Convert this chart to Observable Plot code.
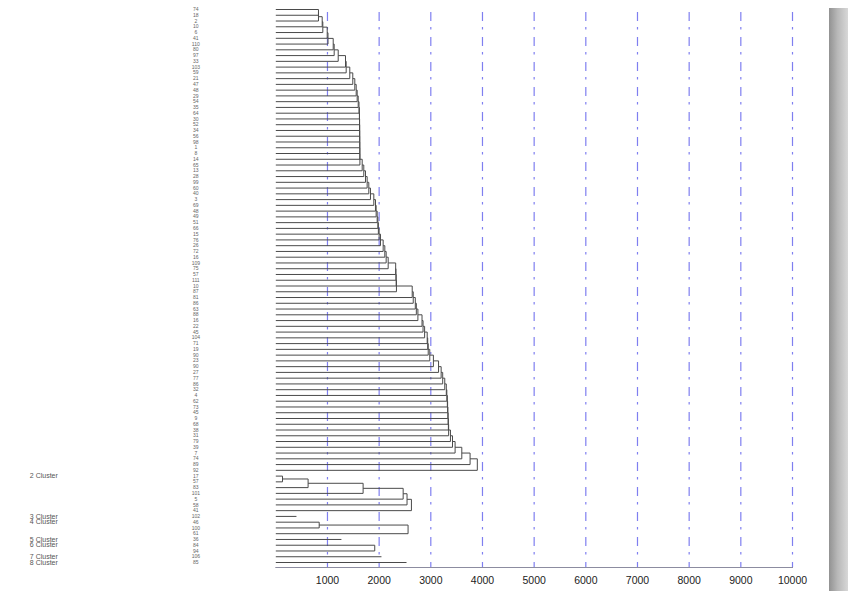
<!DOCTYPE html>
<html>
<head>
<meta charset="utf-8">
<script src="https://cdn.jsdelivr.net/npm/d3@7"></script>
<script src="https://cdn.jsdelivr.net/npm/@observablehq/plot@0.6"></script>
<style>
  html, body { margin: 0; padding: 0; background: #fff; }
  #wrap { position: relative; width: 848px; height: 591px; overflow: hidden; }
  #shade { position: absolute; left: 829px; top: 8px; width: 19px; height: 583px;
           background: linear-gradient(to right, #929292, #b8b8b8 45%, #d8d8d8); }
</style>
</head>
<body>
<div id="wrap"><div id="chart"></div><div id="shade"></div></div>
<script>
// ---- data ----
const clusterNames = ["1 Cluster", "2 Cluster", "3 Cluster", "4 Cluster", "5 Cluster", "6 Cluster", "7 Cluster", "8 Cluster"];
const showClusterName = [false, true, true, true, true, true, true, true];

const leaves1 = ["74","18","2","10","6","41","110","80","97","33","103","59","21","47","48","29","54","35","64","30",
  "52","34","56","98","1","8","14","65","13","28","99","60","40","3","69","48","49","51","66","15",
  "76","26","72","16","109","75","57","111","10","87","81","86","63","88","16","22","45","104","71","19",
  "90","23","90","27","77","86","32","4","62","73","45","9","68","38","31","79","39","7","74","89","92"];
const merges1 = [826, 826, 898, 910, 995, 1010, 1111, 1130, 1208, 1349, 1362, 1432, 1490, 1529, 1556, 1575, 1595, 1610, 1618, 1620,
  1622, 1623, 1624, 1625, 1626, 1627, 1628, 1672, 1703, 1736, 1768, 1800, 1832, 1897, 1929, 1942, 1962, 1975, 1985, 2000,
  2026, 2078, 2110, 2136, 2175, 2320, 2325, 2330, 2335, 2640, 2660, 2700, 2720, 2750, 2830, 2850, 2880, 2930, 2940, 2950,
  2980, 3050, 3150, 3200, 3230, 3270, 3300, 3310, 3320, 3325, 3330, 3335, 3340, 3345, 3380, 3420, 3470, 3600, 3760, 3900];

const leaves2 = ["17","57","83","101","5","58","41"];
const merges2 = [130, 625, 1690, 2465, 2540, 2625];
const leaves3 = ["102"];
const merges3 = [400];
const leaves4 = ["46","100","61"];
const merges4 = [840, 2560];
const leaves5 = ["36"];
const merges5 = [1270];
const leaves6 = ["84","94"];
const merges6 = [1915];
const leaves7 = ["106"];
const merges7 = [2045];
const leaves8 = ["85"];
const merges8 = [2530];

const xTicks = [1000, 2000, 3000, 4000, 5000, 6000, 7000, 8000, 9000, 10000];

// ---- build dendrogram segments (chained merges) ----
const clusters = [
  [leaves1, merges1], [leaves2, merges2], [leaves3, merges3], [leaves4, merges4],
  [leaves5, merges5], [leaves6, merges6], [leaves7, merges7], [leaves8, merges8]
];
const segs = [], leafRows = [], clusterRows = [];
let row = 0;
clusters.forEach(([leaves, merges], ci) => {
  const start = row;
  leaves.forEach((lab, j) => leafRows.push({row: start + j, label: lab}));
  if (showClusterName[ci]) clusterRows.push({row: start, label: clusterNames[ci]});
  if (leaves.length === 1) {
    segs.push({x1: 0, y1: start, x2: merges[0], y2: start});
  } else {
    let cx = 0, cy = start;
    for (let k = 1; k < leaves.length; k++) {
      const h = merges[k - 1], r = start + k;
      segs.push({x1: cx, y1: cy, x2: h, y2: cy});
      segs.push({x1: 0, y1: r, x2: h, y2: r});
      segs.push({x1: h, y1: cy, x2: h, y2: r});
      cx = h; cy = (cy + r) / 2;
    }
  }
  row += leaves.length;
});
const lastRow = row - 1;

const chart = Plot.plot({
  width: 848,
  height: 591,
  marginLeft: 275.3,
  marginRight: 56,
  marginTop: 6,
  marginBottom: 24,
  style: {fontFamily: "Liberation Sans, Arial, sans-serif", background: "#fff"},
  x: {domain: [0, 10000], axis: null},
  y: {domain: [0, lastRow], reverse: true, insetTop: 3, insetBottom: 5, axis: null},
  marks: [
    Plot.gridX(xTicks, {stroke: "#7f7ff0", strokeOpacity: 1, strokeWidth: 1.2, strokeDasharray: "9,6,2.5,7.5", insetTop: 6}),
    Plot.frame({anchor: "bottom", stroke: "#8c8ca0", strokeWidth: 1}),
    Plot.axisX(xTicks, {tickSize: 0, tickPadding: 9, tickFormat: d => String(d), fontSize: 10.5, fill: "#222"}),
    Plot.link(segs, {x1: "x1", y1: "y1", x2: "x2", y2: "y2", stroke: "#4a4a4a", strokeWidth: 1}),
    Plot.text(leafRows, {y: "row", text: "label", frameAnchor: "left", dx: -80, textAnchor: "middle", fontSize: 5, fill: "#666"}),
    Plot.text(clusterRows, {y: "row", text: "label", frameAnchor: "left", dx: -246, textAnchor: "start", fontSize: 7, fill: "#555"})
  ]
});
document.getElementById("chart").appendChild(chart);
</script>
</body>
</html>
